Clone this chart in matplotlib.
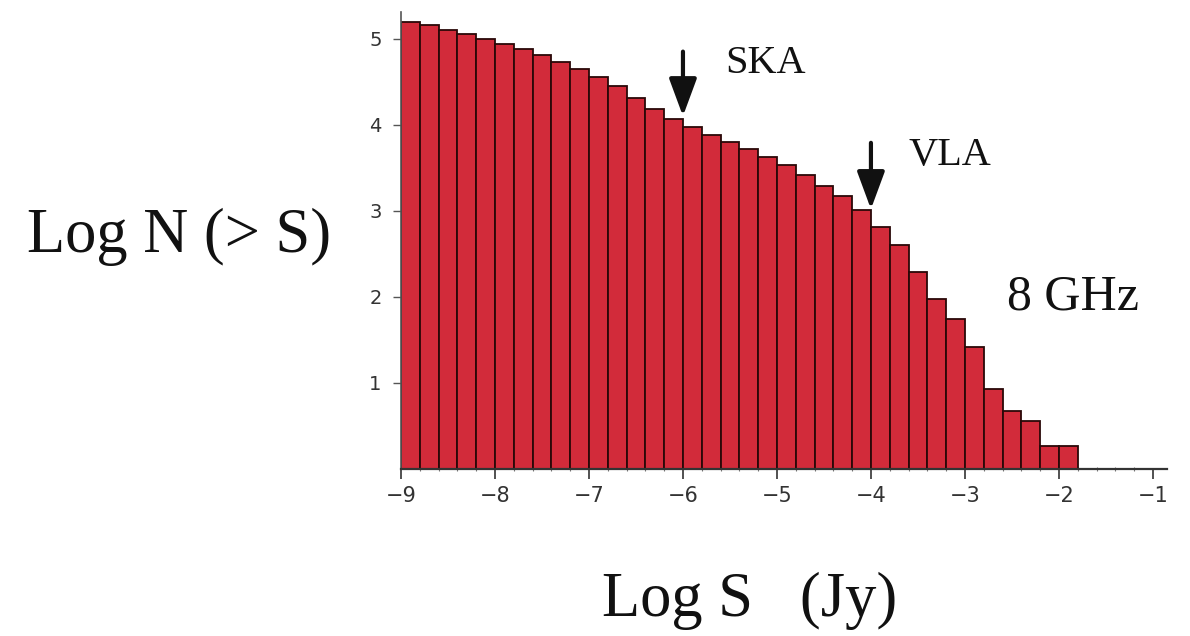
import matplotlib
matplotlib.use("Agg")
import matplotlib.pyplot as plt
from matplotlib.ticker import MultipleLocator, FixedLocator

# ---- data ----
bin_left = [-9.0, -8.8, -8.6, -8.4, -8.2, -8.0, -7.8, -7.6, -7.4, -7.2,
            -7.0, -6.8, -6.6, -6.4, -6.2, -6.0, -5.8, -5.6, -5.4, -5.2,
            -5.0, -4.8, -4.6, -4.4, -4.2, -4.0, -3.8, -3.6, -3.4, -3.2,
            -3.0, -2.8, -2.6, -2.4, -2.2, -2.0]
log_n = [5.19, 5.16, 5.10, 5.06, 5.00, 4.94, 4.88, 4.81, 4.73, 4.65,
         4.55, 4.45, 4.31, 4.18, 4.07, 3.97, 3.88, 3.80, 3.72, 3.62,
         3.53, 3.42, 3.29, 3.17, 3.01, 2.81, 2.60, 2.29, 1.98, 1.74,
         1.42, 0.93, 0.67, 0.56, 0.27, 0.27]
x_ticks = [-9, -8, -7, -6, -5, -4, -3, -2, -1]
y_ticks = [1, 2, 3, 4, 5]

# annotations: (label, arrow x, arrow tail y, arrow tip y)
arrows = [("SKA", -6.0, 4.85, 4.10), ("VLA", -4.0, 3.79, 3.02)]
text_labels = [("SKA", -5.55, 4.60), ("VLA", -3.60, 3.53), ("8 GHz", -2.55, 1.85)]

serif = ["Liberation Serif", "DejaVu Serif"]

fig = plt.figure(figsize=(11.9, 6.36), dpi=100)
ax = fig.add_axes([401 / 1190, 1 - 469 / 636, 766 / 1190, (469 - 12) / 636])

ax.bar(bin_left, log_n, width=0.2, align="edge", color="#d22b3a",
       edgecolor="#2a0808", linewidth=1.3, zorder=2)

ax.set_xlim(-9.0, -0.85)
ax.set_ylim(0, 5.31)

for s in ["top", "right"]:
    ax.spines[s].set_visible(False)
ax.spines["left"].set_color("#555555")
ax.spines["bottom"].set_color("#333333")
ax.spines["left"].set_linewidth(1.2)
ax.spines["bottom"].set_linewidth(1.6)

ax.xaxis.set_major_locator(FixedLocator(x_ticks))
ax.xaxis.set_minor_locator(MultipleLocator(0.2))
ax.yaxis.set_major_locator(FixedLocator(y_ticks))
ax.set_xticklabels(["\u2212%d" % abs(v) for v in x_ticks])
ax.set_yticklabels([str(v) for v in y_ticks])

ax.tick_params(axis="x", which="major", direction="out", length=7, width=1.2,
               color="#333333", labelsize=15, labelcolor="#333333", pad=5)
ax.tick_params(axis="x", which="minor", direction="inout", length=3, width=0.8,
               color="#777777")
ax.tick_params(axis="y", which="major", direction="out", length=6, width=1.0,
               color="#555555", labelsize=14, labelcolor="#333333", pad=8)

for name, xa, y0, y1 in arrows:
    ax.annotate("", xy=(xa, y1), xytext=(xa, y0),
                arrowprops=dict(arrowstyle="-|>,head_length=2.3,head_width=0.85",
                                color="#111111", lw=3.0, shrinkA=0, shrinkB=0))

for txt, tx, ty in text_labels:
    size = 36 if "GHz" in txt else 29
    ax.text(tx, ty, txt, fontsize=size, family=serif, color="#111111",
            ha="left", va="baseline")

fig.text(179 / 1190, 1 - 237 / 636, "Log N (> S)", fontsize=45, family=serif,
         color="#111111", ha="center", va="center")
fig.text(750 / 1190, 1 - 616 / 636, "Log S   (Jy)", fontsize=45, family=serif,
         color="#111111", ha="center", va="baseline")

fig.savefig("out.png", dpi=100)
